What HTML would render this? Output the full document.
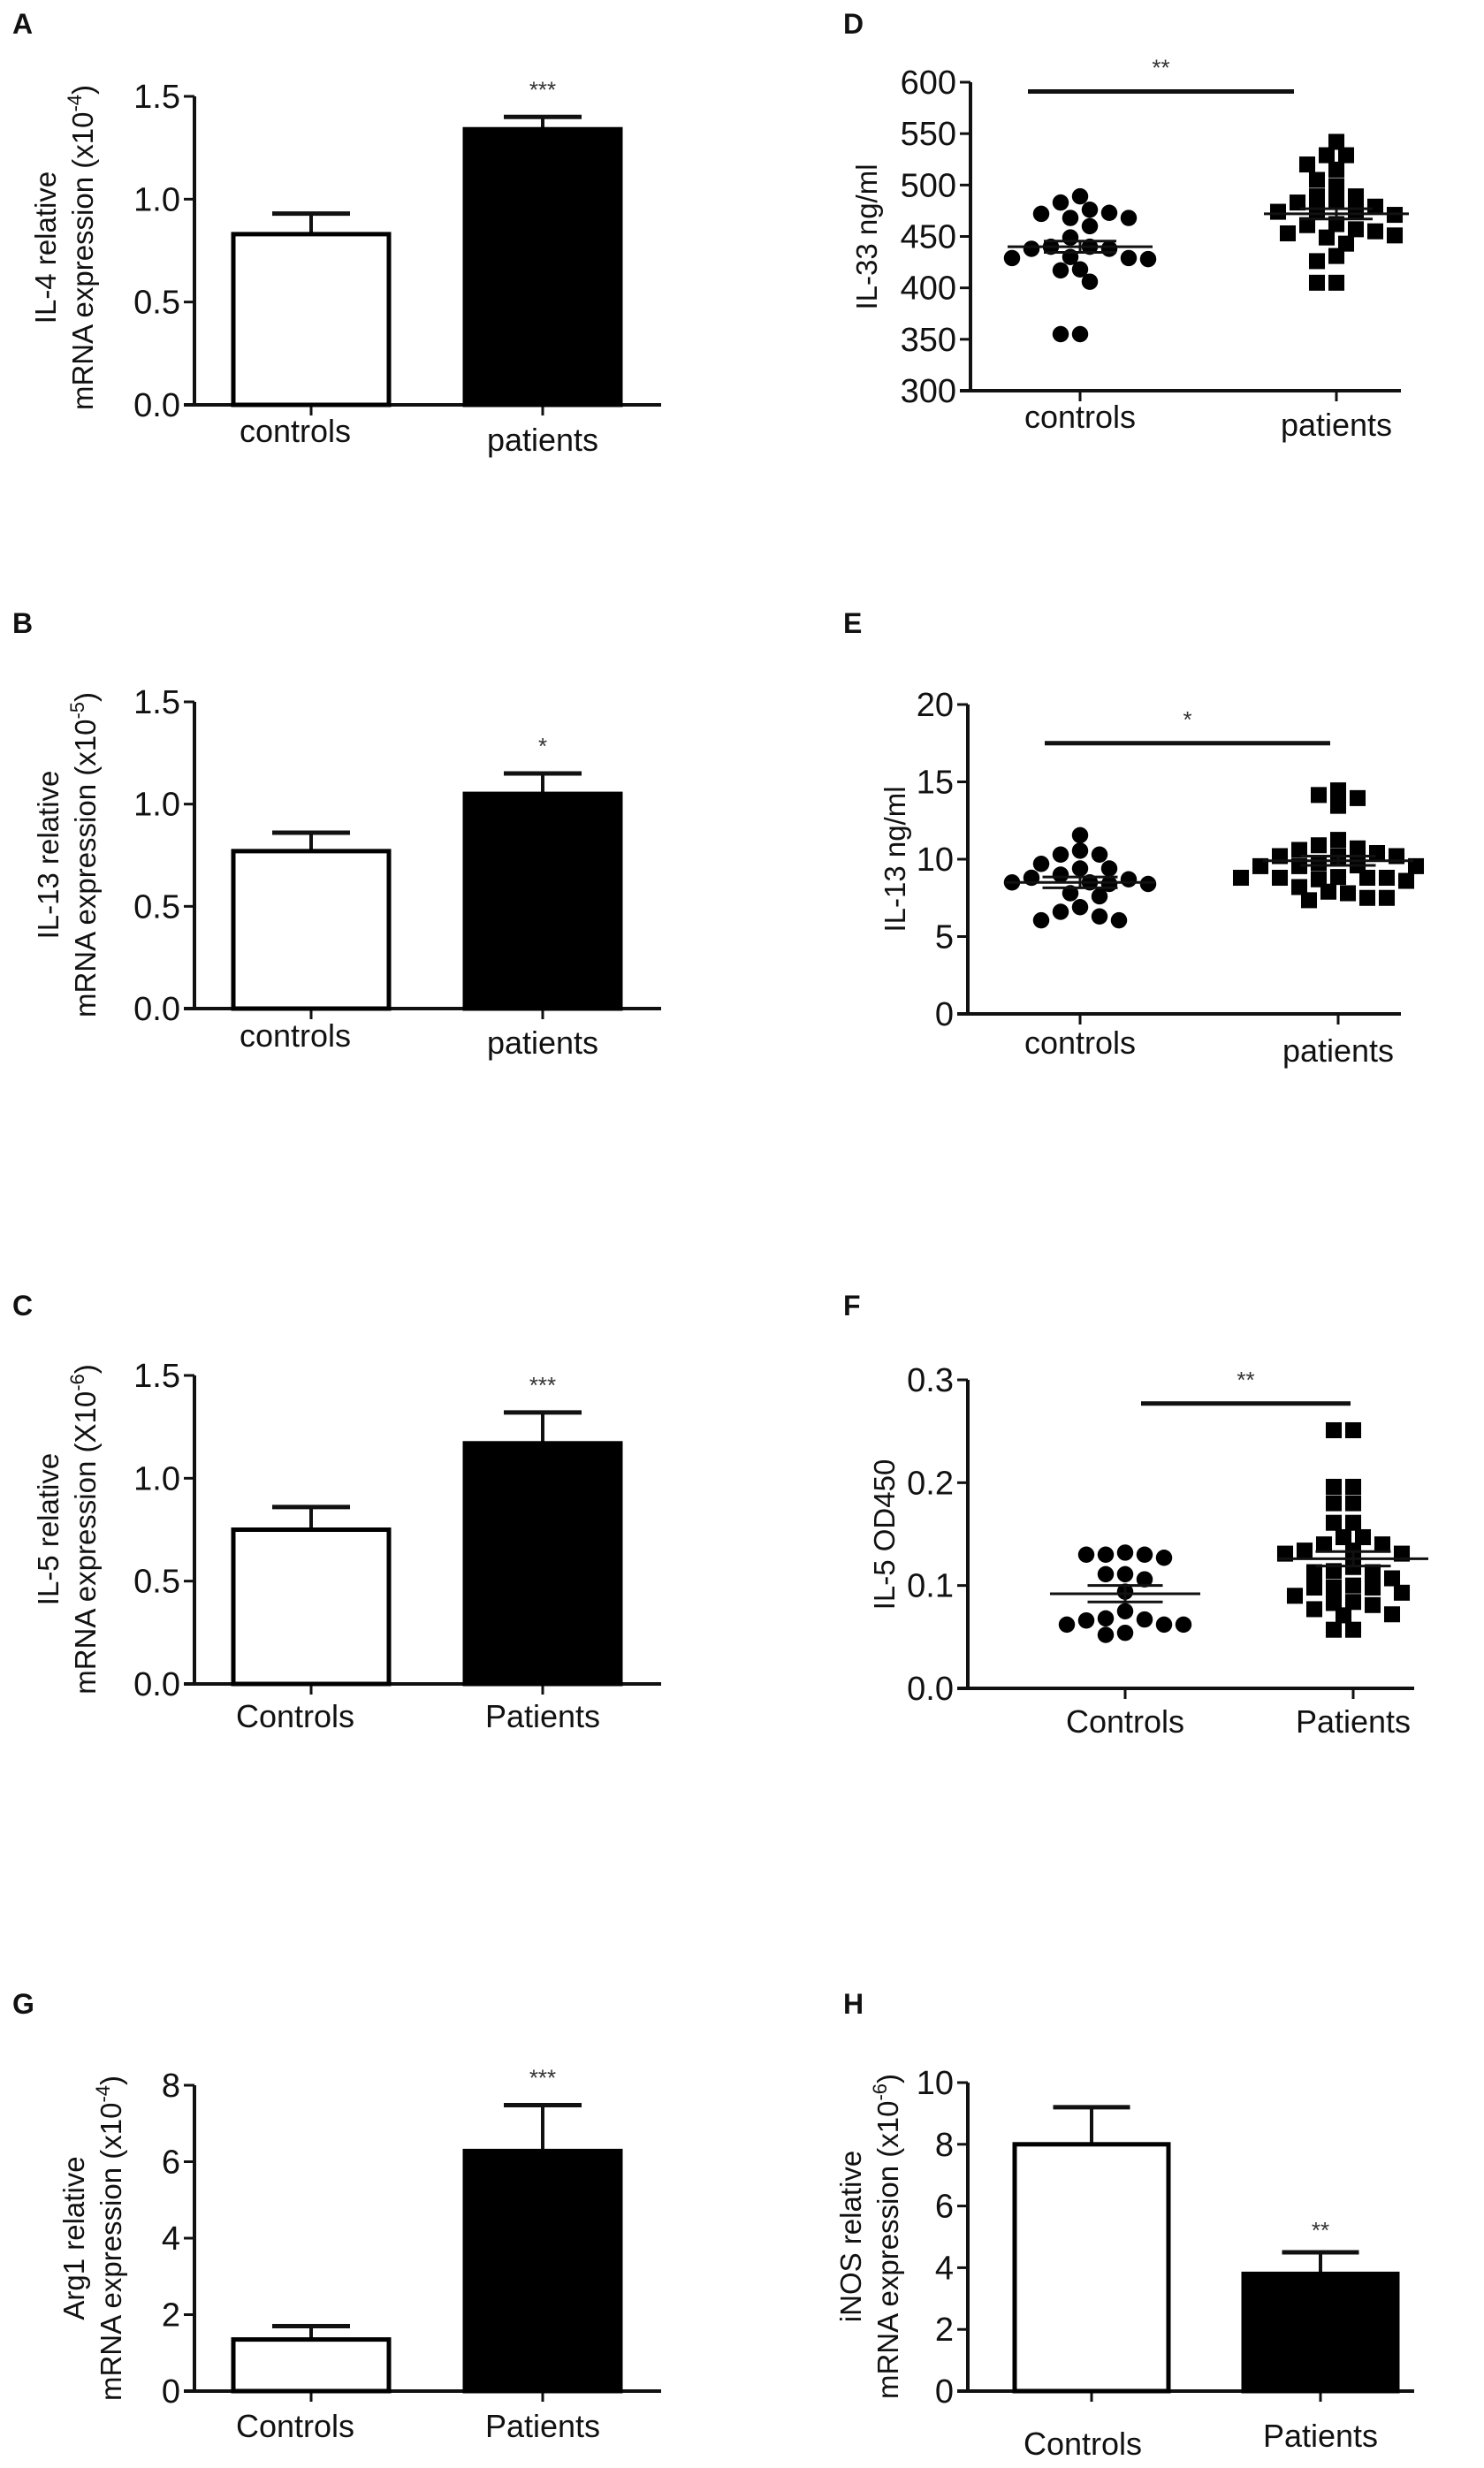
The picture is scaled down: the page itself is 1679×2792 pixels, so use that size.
<!DOCTYPE html>
<html><head><meta charset="utf-8"><style>
html,body{margin:0;padding:0;background:#fff;}
svg{display:block;font-family:"Liberation Sans",Arial,sans-serif;}
</style></head><body>
<svg id="fig" width="1679" height="2792" viewBox="0 0 1679 2792" xmlns="http://www.w3.org/2000/svg"></svg>
<script>
// ---- data ----
const barCategories = ["controls","patients"];
const il4Means = [0.83, 1.34];
const il4Errors = [0.10, 0.06];
const il13Means = [0.77, 1.05];
const il13Errors = [0.09, 0.10];
const il5Means = [0.75, 1.17];
const il5Errors = [0.11, 0.15];
const arg1Means = [1.35, 6.28];
const arg1Errors = [0.35, 1.2];
const inosMeans = [8.0, 3.8];
const inosErrors = [1.2, 0.7];

const il33Controls = [476,472,468,468,473,483,489,460,449,440,438,438,440,429,429,430,417,418,428,406,355,355];
const il33Patients = [542,529,529,520,515,505,499,483,489,489,484,479,474,474,471,474,462,461,455,453,457,451,449,443,431,426,405,405];
const il33Stats = [440, 5.5, 472, 5];
const il13sControls = [11.55,10.3,10.3,10.55,9.7,9.4,9.0,9.4,8.8,8.5,8.4,8.5,8.4,8.7,7.8,7.6,6.9,6.3,6.05,6.05,6.6];
const il13sPatients = [14.45,13.95,13.45,14.15,11.25,10.9,10.6,10.2,10.2,10.2,10.4,10.7,9.6,9.55,9.55,9.55,8.85,8.8,8.7,8.8,8.8,8.8,8.6,7.9,7.5,7.35,7.5,7.8,8.2,9.75];
const il13sStats = [8.5, 0.35, 9.9, 0.3];
const od450Controls = [0.130,0.130,0.127,0.130,0.132,0.111,0.106,0.111,0.094,0.075,0.068,0.067,0.062,0.062,0.066,0.062,0.052,0.054];
const od450Patients = [0.251,0.251,0.196,0.196,0.180,0.180,0.161,0.161,0.147,0.147,0.140,0.140,0.134,0.131,0.131,0.134,0.114,0.113,0.107,0.118,0.113,0.098,0.100,0.098,0.098,0.093,0.090,0.083,0.077,0.081,0.084,0.072,0.071,0.057,0.057];
const od450Stats = [0.092, 0.008, 0.126, 0.007];

const ticksA = [0,0.5,1.0,1.5];
const ticksG = [0,2,4,6,8];
const ticksH = [0,2,4,6,8,10];
const ticksD = [300,350,400,450,500,550,600];
const ticksE = [0,5,10,15,20];
const ticksF = [0,0.1,0.2,0.3];
const sigLines = [591, 17.5, 0.277];

const NS="http://www.w3.org/2000/svg";
const svg=document.getElementById('fig');
function mk(tag,attrs,parent){const e=document.createElementNS(NS,tag);for(const k in attrs)e.setAttribute(k,attrs[k]);(parent||svg).appendChild(e);return e;}
function txt(s,x,y,size,anchor,parent,extra){const t=mk('text',Object.assign({x:x,y:y,'font-size':size,'text-anchor':anchor||'middle',fill:'#111'},extra||{}),parent);t.textContent=s;return t;}

function axes(g,p,ticks,fmt){
  const ys=v=>p.y0+(v-p.min)/(p.max-p.min)*(p.y1-p.y0);
  const ax=mk('line',{x1:p.ax,y1:p.y1,x2:p.ax,y2:p.y0,stroke:'#111','stroke-width':4},g);
  
  
  const bx=mk('line',{x1:p.ax-12,y1:p.y0,x2:p.xEnd,y2:p.y0,stroke:'#111','stroke-width':4},g);
  
  
  ticks.forEach(v=>{
    const y=ys(v);
    const tk=mk('line',{x1:p.ax-12,y1:y,x2:p.ax,y2:y,stroke:'#111','stroke-width':3},g);
    
    
    const t=txt(fmt(v),p.ax-16,y+13,38,'end',g);
    
    
  });
  p.cats.forEach((c,i)=>{
    const tk=mk('line',{x1:c,y1:p.y0,x2:c,y2:p.y0+12,stroke:'#111','stroke-width':3},g);
    
    
    const t=txt(p.labels[i],c+p.lblDx[i],p.lblY[i],36,'middle',g);
    
    
  });
  return ys;
}
function panelLetter(L,x,y){const t=txt(L,x,y,32,'start',null,{'font-weight':'bold'});}
function ytitle(g,lines,x,y){
  lines.forEach((ln,i)=>{
    const t=mk('text',{x:0,y:0,'font-size':33,'text-anchor':'middle',fill:'#111',transform:`translate(${x+i*42},${y}) rotate(-90)`},g);
    
    
    if(Array.isArray(ln)){
      const a=mk('tspan',{},t);a.textContent=ln[0];
      const b=mk('tspan',{dy:-13,'font-size':22},t);b.textContent=ln[1];
      const c=mk('tspan',{dy:13},t);c.textContent=ln[2];
    } else t.textContent=ln;
  });
}
function sig(g,s,x,y){const t=txt(s,x,y,26,'middle',g,{fill:'#333'});}

function barPanel(name,p,means,errs,ticks,fmt,titleLines,tx,ty,star,starIdx){
  const g=mk('g',{});
  const ys=axes(g,p,ticks,fmt);
  means.forEach((m,i)=>{
    const c=p.cats[i],hw=p.hw;
    const top=ys(m),et=ys(m+errs[i]);
    const e=mk('line',{x1:c,y1:top,x2:c,y2:et,stroke:'#111','stroke-width':4},g);
    
    
    const cap=mk('line',{x1:c-hw/2,y1:et,x2:c+hw/2,y2:et,stroke:'#111','stroke-width':5},g);
    
    
    const r=mk('rect',{x:c-hw,y:top,width:2*hw,height:p.y0-top,fill:i===0?'#fff':'#000',stroke:'#000','stroke-width':5},g);
    
    
    if(i===starIdx) sig(g,star,c,ys(m+errs[i])-p.starGap);
  });
  ytitle(g,titleLines,tx,ty);
}

function swarm(vals,ys,cx,d){
  const placed=[];const order=vals.map((v,i)=>i).sort((a,b)=>vals[b]-vals[a]);
  const out=[];
  order.forEach(i=>{
    const y=ys(vals[i]);
    for(let k=0;k<40;k++){
      const off=(k%2===0?1:-1)*Math.ceil(k/2)*d*0.5;
      const x=cx+off;
      if(placed.every(q=>Math.hypot(q[0]-x,q[1]-y)>=d*0.78)){placed.push([x,y]);out.push([x,y]);break;}
    }
  });
  return out;
}
function dotPanel(name,p,ctrl,pat,stats,ticks,fmt,title,tx,ty,sigV,sigX1,sigX2,star){
  const g=mk('g',{});
  const ys=axes(g,p,ticks,fmt);
  swarm(ctrl,ys,p.cats[0],p.d).forEach(([x,y])=>{
    const c=mk('circle',{cx:x,cy:y,r:p.d*0.42,fill:'#000'},g);
    
    
  });
  swarm(pat,ys,p.cats[1],p.d).forEach(([x,y])=>{
    const s=p.d*0.82;
    const c=mk('rect',{x:x-s/2,y:y-s/2,width:s,height:s,fill:'#000'},g);
    
    
  });
  [0,1].forEach(i=>{
    const m=stats[i*2],se=stats[i*2+1],c=p.cats[i];
    const ml=mk('line',{x1:c-p.mw,y1:ys(m),x2:c+p.mw,y2:ys(m),stroke:'#111','stroke-width':3},g);
    
    
    [m+se,m-se].forEach(v=>{
      const l=mk('line',{x1:c-p.mw/2,y1:ys(v),x2:c+p.mw/2,y2:ys(v),stroke:'#111','stroke-width':3},g);
      
      
    });
    const v=mk('line',{x1:c,y1:ys(m+se),x2:c,y2:ys(m-se),stroke:'#111','stroke-width':3},g);
    
    
  });
  const sl=mk('line',{x1:sigX1,y1:ys(sigV),x2:sigX2,y2:ys(sigV),stroke:'#111','stroke-width':5},g);
  
  
  sig(g,star,(sigX1+sigX2)/2,ys(sigV)-18);
  ytitle(g,[title],tx,ty);
}

const f1=v=>v.toFixed(1), f0=v=>String(v);
const left=(y0,y1,max,labels,ly)=>({ax:220,xEnd:748,cats:[352,614],hw:88,y0:y0,y1:y1,min:0,max:max,labels:labels,lblY:ly,lblDx:[-18,0],starGap:22});

panelLetter('A',14,38);panelLetter('B',14,716);panelLetter('C',14,1488);panelLetter('G',14,2278);
panelLetter('D',954,38);panelLetter('E',954,716);panelLetter('F',954,1488);panelLetter('H',954,2278);

barPanel('panel-a-il4',left(458,109,1.5,['controls','patients'],[500,510]),il4Means,il4Errors,ticksA,f1,['IL-4 relative',['mRNA expression (x10','-4',')']],63,280,'***',1);
barPanel('panel-b-il13',left(1141,794,1.5,['controls','patients'],[1184,1192]),il13Means,il13Errors,ticksA,f1,['IL-13 relative',['mRNA expression (x10','-5',')']],66,967,'*',1);
barPanel('panel-c-il5',left(1905,1556,1.5,['Controls','Patients'],[1954,1954]),il5Means,il5Errors,ticksA,f1,['IL-5 relative',['mRNA expression (X10','-6',')']],66,1730,'***',1);
barPanel('panel-g-arg1',left(2705,2359,8,['Controls','Patients'],[2757,2757]),arg1Means,arg1Errors,ticksG,f0,['Arg1 relative',['mRNA expression (x10','-4',')']],95,2532,'***',1);
barPanel('panel-h-inos',{ax:1095,xEnd:1600,cats:[1235,1494],hw:87,y0:2705,y1:2356,min:0,max:10,labels:['Controls','Patients'],lblY:[2777,2768],lblDx:[-10,0],starGap:0},inosMeans,inosErrors,ticksH,f0,['iNOS relative',['mRNA expression (x10','-6',')']],974,2530,'',-1);
sig(svg,'**',1494,2532);

dotPanel('panel-d-il33',{ax:1098,xEnd:1585,cats:[1222,1512],y0:442,y1:93,min:300,max:600,labels:['controls','patients'],lblY:[484,493],lblDx:[0,0],d:22,mw:82},il33Controls,il33Patients,il33Stats,ticksD,f0,'IL-33 ng/ml',992,268,sigLines[0],1163,1464,'**');
dotPanel('panel-e-il13',{ax:1095,xEnd:1585,cats:[1222,1514],y0:1147,y1:797,min:0,max:20,labels:['controls','patients'],lblY:[1192,1201],lblDx:[0,0],d:22,mw:85},il13sControls,il13sPatients,il13sStats,ticksE,f0,'IL-13 ng/ml',1024,972,sigLines[1],1182,1505,'*');
dotPanel('panel-f-il5',{ax:1095,xEnd:1600,cats:[1273,1531],y0:1910,y1:1561,min:0,max:0.3,labels:['Controls','Patients'],lblY:[1960,1960],lblDx:[0,0],d:22,mw:85},od450Controls,od450Patients,od450Stats,ticksF,f1,'IL-5 OD450',1012,1736,sigLines[2],1291,1528,'**');
</script>
</body></html>
